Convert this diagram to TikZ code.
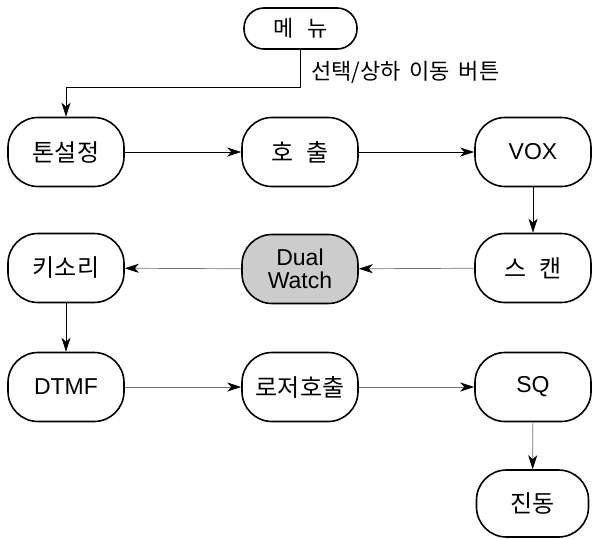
\documentclass[tikz,border=0pt]{standalone}
\usepackage{fontspec}
\setmainfont{Liberation Sans}
\newfontfamily\kr{Noto Sans CJK KR}
\usetikzlibrary{arrows.meta}
\tikzset{
  stepbox/.style={draw, line width=1.6pt, rounded corners=30pt, minimum width=116pt, minimum height=69pt, inner sep=0pt, align=center, font=\fontsize{23}{23}\selectfont},
  arr/.style={line width=0.7pt, -{Stealth[length=14pt,width=9pt,inset=4pt]}},
  garr/.style={arr, draw=black!55, -{Stealth[length=14pt,width=9pt,inset=4pt,color=black]}},
}
\begin{document}
\begin{tikzpicture}[x=1pt,y=-1pt]
\useasboundingbox (0,0) rectangle (593,538);
\node[stepbox, minimum width=113pt, minimum height=41pt, rounded corners=20pt, font=\fontsize{22}{22}\selectfont] (menu) at (300.5,28.5) {\kr 메\hspace{0.6em}뉴};
\node[stepbox, font=\fontsize{24}{24}\selectfont] (tone) at (66,152) {\kr 톤설정};
\node[stepbox, font=\fontsize{24}{24}\selectfont] (call) at (300,152) {\kr 호\hspace{0.5em}출};
\node[stepbox] (vox) at (533,152) {VOX};
\node[stepbox, font=\fontsize{24}{24}\selectfont] (scan) at (533,268) {\kr 스\hspace{0.5em}캔};
\node[stepbox, fill=black!20] (dual) at (300,269) {Dual\\Watch};
\node[stepbox, font=\fontsize{24}{24}\selectfont] (key) at (66,268) {\kr 키소리};
\node[stepbox] (dtmf) at (66,387) {DTMF};
\node[stepbox, font=\fontsize{24}{24}\selectfont] (laser) at (300,387) {\kr 로저호출};
\node[stepbox] (sq) at (533,387) {SQ};
\node[stepbox, minimum width=112pt, minimum height=67pt, font=\fontsize{24}{24}\selectfont] (vib) at (532.5,503.5) {\kr 진동};
\coordinate (bend) at (66,87);
\node[anchor=west, inner sep=0pt, font=\kr\fontsize{22}{22}\selectfont] (lab) at (311,72) {선택/상하\hspace{0.4em}이동\hspace{0.4em}버튼};
\draw[arr] (menu.south) |- (bend) -- (tone.north);
\draw[arr] (tone) -- (call);
\draw[arr] (call) -- (vox);
\draw[arr] (vox) -- (scan);
\draw[garr] (scan) -- (dual);
\draw[garr] (dual) -- (key);
\draw[arr] (key) -- (dtmf);
\draw[garr] (dtmf) -- (laser);
\draw[garr] (laser) -- (sq);
\draw[garr] (sq) -- (vib);
\end{tikzpicture}
\end{document}
